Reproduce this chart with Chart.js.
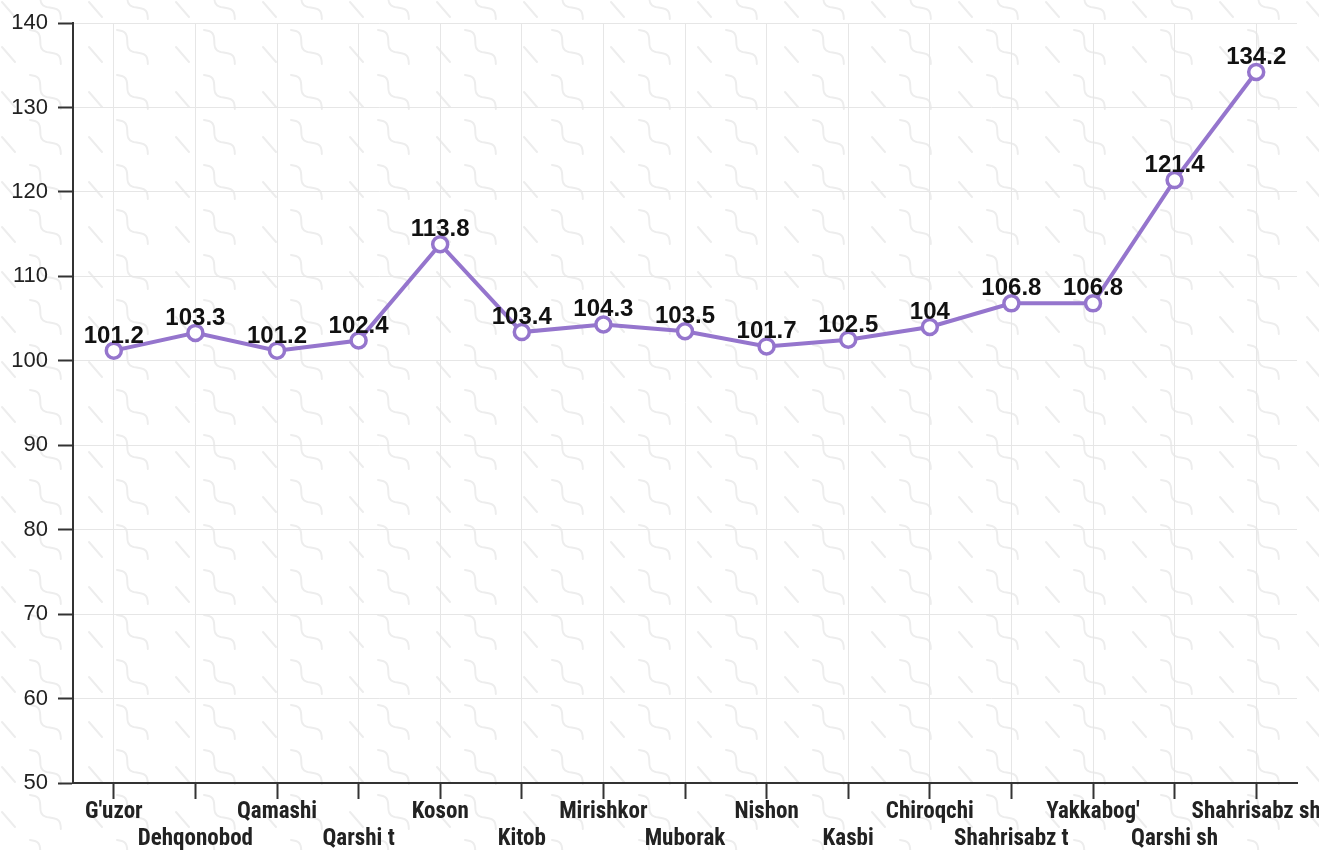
<!DOCTYPE html>
<html>
<head>
<meta charset="utf-8">
<script src="https://cdn.jsdelivr.net/npm/chart.js@4/dist/chart.umd.min.js"></script>
<style>
  html, body { margin: 0; padding: 0; background: #fff; }
  #wrap { width: 1319px; height: 850px; position: relative; }
</style>
</head>
<body>
<div id="wrap"><canvas id="c" width="1319" height="850"></canvas></div>
<script>
const categories = ["G'uzor", "Dehqonobod", "Qamashi", "Qarshi t", "Koson", "Kitob", "Mirishkor", "Muborak", "Nishon", "Kasbi", "Chiroqchi", "Shahrisabz t", "Yakkabog'", "Qarshi sh", "Shahrisabz sh"];
const values = [101.2, 103.3, 101.2, 102.4, 113.8, 103.4, 104.3, 103.5, 101.7, 102.5, 104, 106.8, 106.8, 121.4, 134.2];
const yMin = 50, yMax = 140, yStep = 10;

// staggered labels: odd indexes go on a second line
const staggered = categories.map((c, i) => i % 2 === 0 ? [c] : ['', c]);

function makePattern() {
  const W = 87, H = 45;
  const t = document.createElement('canvas');
  t.width = W; t.height = H;
  const g = t.getContext('2d');
  g.strokeStyle = '#ededed';
  g.lineWidth = 2;
  g.lineCap = 'round';
  for (let ox = -W; ox <= W; ox += W) {
    for (let oy = -H; oy <= H; oy += H) {
      g.beginPath();
      g.moveTo(ox + 2, oy + 2);
      g.lineTo(ox + 15, oy + 17);
      g.stroke();
      const x0 = ox + 30, y0 = oy + 30, L = 46;
      const dx = 0.67, dy = 0.74;
      g.beginPath();
      for (let s = 0; s <= L; s += 1) {
        const w = 4 * Math.sin(s / L * Math.PI * 3);
        const x = x0 + dx * s + dy * w;
        const y = y0 + dy * s - dx * w;
        if (s === 0) g.moveTo(x, y); else g.lineTo(x, y);
      }
      g.stroke();
    }
  }
  return t;
}

const bgPlugin = {
  id: 'bg',
  beforeDraw(chart) {
    const ctx = chart.ctx;
    ctx.save();
    ctx.fillStyle = '#ffffff';
    ctx.fillRect(0, 0, chart.width, chart.height);
    ctx.fillStyle = ctx.createPattern(makePattern(), 'repeat');
    ctx.fillRect(0, 0, chart.width, chart.height);
    ctx.restore();
  }
};

const labelPlugin = {
  id: 'valueLabels',
  afterDatasetsDraw(chart) {
    const ctx = chart.ctx;
    const meta = chart.getDatasetMeta(0);
    ctx.save();
    ctx.font = 'bold 24px "Liberation Sans", Arial, sans-serif';
    ctx.fillStyle = '#111';
    ctx.textAlign = 'center';
    ctx.textBaseline = 'alphabetic';
    meta.data.forEach((pt, i) => {
      ctx.fillText(String(values[i]), pt.x, pt.y - 8);
    });
    ctx.restore();
  }
};

new Chart(document.getElementById('c'), {
  type: 'line',
  data: {
    labels: staggered,
    datasets: [{
      data: values,
      borderColor: '#9575cd',
      borderWidth: 4,
      pointBackgroundColor: '#ffffff',
      pointBorderColor: '#9575cd',
      pointBorderWidth: 3.5,
      pointRadius: 7.5,
      tension: 0,
      fill: false
    }]
  },
  options: {
    responsive: false,
    animation: false,
    devicePixelRatio: 1,
    layout: { autoPadding: false, padding: { top: 23, right: 22, left: 0, bottom: 0 } },
    plugins: { legend: { display: false }, tooltip: { enabled: false } },
    scales: {
      x: {
        offset: true,
        afterFit(s) { s.height = 67; s.paddingLeft = 0; s.paddingRight = 0; },
        grid: { color: '#e6e6e6', lineWidth: 1, tickColor: '#333', tickWidth: 2, tickLength: 16, offset: false },
        border: { color: '#333', width: 2 },
        ticks: {
          autoSkip: false, maxRotation: 0, minRotation: 0, padding: 0,
          color: '#222',
          font: { family: '"Liberation Sans Narrow", "Roboto Condensed", Roboto, sans-serif', weight: 'bold', size: 23, lineHeight: 1.18 }
        }
      },
      y: {
        min: yMin, max: yMax,
        afterFit(s) { s.width = 73; s.paddingTop = 0; s.paddingBottom = 0; },
        grid: { color: '#e6e6e6', lineWidth: 1, tickColor: '#333', tickWidth: 2, tickLength: 15 },
        border: { color: '#333', width: 2 },
        ticks: {
          stepSize: yStep, padding: 10, color: '#222',
          font: { family: '"Liberation Sans", Arial, sans-serif', size: 22 }
        }
      }
    }
  },
  plugins: [bgPlugin, labelPlugin]
});
</script>
</body>
</html>
